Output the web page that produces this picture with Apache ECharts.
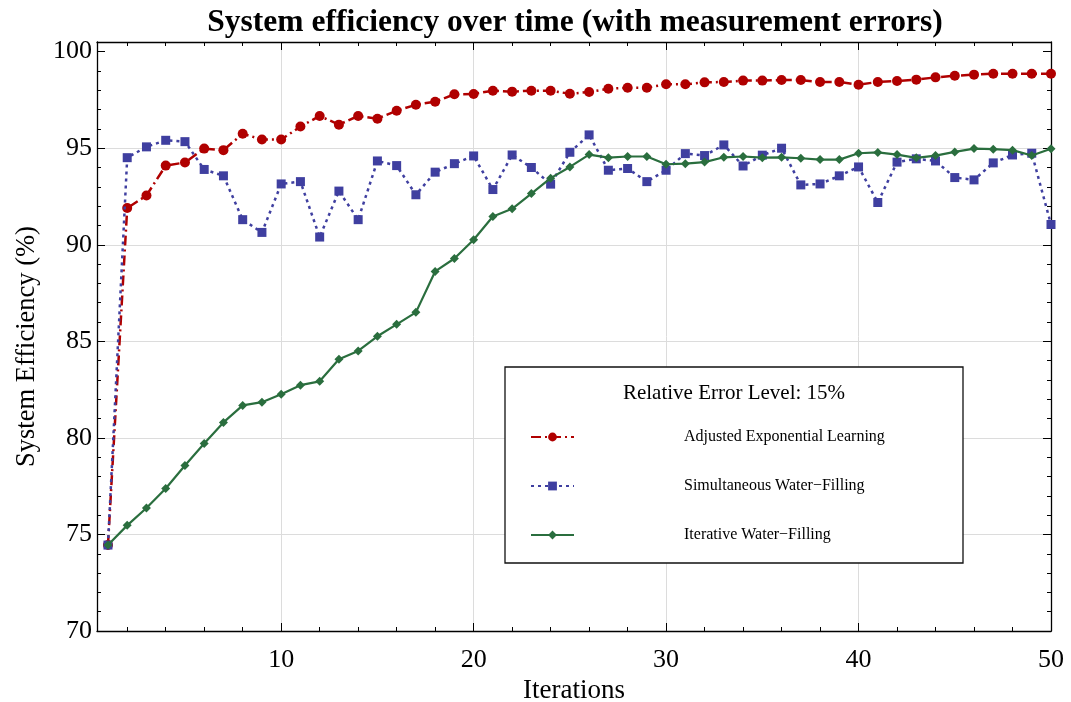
<!DOCTYPE html>
<html>
<head>
<meta charset="utf-8">
<script src="https://cdn.jsdelivr.net/npm/echarts@6/dist/echarts.min.js"></script>
<style>html,body{margin:0;padding:0;background:#fff}#chart{width:1071px;height:702px}</style>
</head>
<body>
<div id="chart"></div>
<script>
const iterations = [1,2,3,4,5,6,7,8,9,10,11,12,13,14,15,16,17,18,19,20,21,22,23,24,25,26,27,28,29,30,31,32,33,34,35,36,37,38,39,40,41,42,43,44,45,46,47,48,49,50];
const adjustedExpLearning = [74.45,91.9,92.55,94.1,94.26,94.98,94.9,95.75,95.45,95.45,96.12,96.67,96.22,96.67,96.53,96.94,97.25,97.41,97.79,97.81,97.98,97.93,97.98,97.98,97.82,97.91,98.08,98.13,98.13,98.31,98.31,98.41,98.43,98.5,98.5,98.53,98.53,98.43,98.43,98.29,98.43,98.48,98.55,98.67,98.75,98.81,98.86,98.86,98.86,98.86];
const simultaneousWF = [74.45,94.51,95.07,95.41,95.34,93.9,93.57,91.3,90.64,93.15,93.27,90.4,92.78,91.3,94.34,94.1,92.59,93.76,94.2,94.6,92.86,94.65,94.0,93.14,94.79,95.69,93.86,93.95,93.27,93.86,94.72,94.62,95.17,94.08,94.64,95.0,93.1,93.15,93.57,94.03,92.19,94.28,94.45,94.34,93.48,93.36,94.24,94.65,94.74,91.05];
const iterativeWF = [74.45,75.47,76.37,77.38,78.57,79.71,80.8,81.68,81.85,82.26,82.73,82.93,84.07,84.5,85.26,85.88,86.5,88.62,89.29,90.26,91.46,91.86,92.65,93.45,94.03,94.67,94.51,94.57,94.57,94.17,94.2,94.28,94.53,94.57,94.51,94.53,94.48,94.41,94.41,94.74,94.78,94.67,94.5,94.62,94.81,94.98,94.95,94.9,94.62,94.97];
const seriesNames = ['Adjusted Exponential Learning','Simultaneous Water\u2212Filling','Iterative Water\u2212Filling'];
const xMajorTicks = [10,20,30,40,50];
const xMinorTicks = [2,4,6,8,12,14,16,18,22,24,26,28,32,34,36,38,42,44,46,48];
const xGridValues = [10,20,30,40];
const yMajorTicks = [70,75,80,85,90,95,100];
const yMinorTicks = [71,72,73,74,76,77,78,79,81,82,83,84,86,87,88,89,91,92,93,94,96,97,98,99];
const yGridValues = [75,80,85,90,95];

const FONT = 'Liberation Serif';
const X_MIN = 0.43, X_MAX = 50, Y_MIN = 70, Y_MAX = 100.5;
const frameLine = {show:true, onZero:false, lineStyle:{color:'#000', width:1.3}};

function ax(extra, isX) {
  return Object.assign({
    type:'value', gridIndex:0,
    min: isX ? X_MIN : Y_MIN, max: isX ? X_MAX : Y_MAX,
    axisLine:{show:false, onZero:false}, axisTick:{show:false},
    axisLabel:{show:false}, splitLine:{show:false}
  }, extra);
}
function tick(vals, len) {
  return {show:true, inside:true, length:len, customValues:vals, lineStyle:{color:'#000', width:1}};
}

const chart = echarts.init(document.getElementById('chart'), null, {renderer:'canvas'});
chart.setOption({
  animation:false,
  backgroundColor:'#fff',
  title:{
    text:'System efficiency over time (with measurement errors)',
    left:575, top:7, padding:0, textAlign:'center',
    textStyle:{fontFamily:FONT, fontWeight:'bold', fontSize:31.5, color:'#000'}
  },
  grid:{left:97, right:20, top:42, bottom:71, containLabel:false, outerBoundsMode:'none'},
  xAxis:[
    ax({position:'bottom', axisLine:frameLine, axisTick:tick(xMajorTicks,8),
        axisLabel:{show:true, customValues:xMajorTicks, margin:16, fontFamily:FONT, fontSize:26, color:'#000'},
        name:'Iterations', nameLocation:'middle', nameGap:44,
        nameTextStyle:{fontFamily:FONT, fontSize:27, color:'#000'}}, true),
    ax({position:'bottom', axisTick:tick(xMinorTicks,4)}, true),
    ax({position:'top', axisLine:frameLine, axisTick:tick(xMajorTicks,8)}, true),
    ax({position:'top', axisTick:tick(xMinorTicks,4)}, true),
    ax({position:'bottom', axisTick:{show:false, customValues:xGridValues},
        splitLine:{show:true, lineStyle:{color:'#dcdcdc', width:1}}}, true)
  ],
  yAxis:[
    ax({position:'left', axisLine:frameLine, axisTick:tick(yMajorTicks,8),
        axisLabel:{show:true, customValues:yMajorTicks, margin:5, fontFamily:FONT, fontSize:26, color:'#000'},
        name:'System Efficiency (%)', nameLocation:'middle', nameGap:56,
        nameTextStyle:{fontFamily:FONT, fontSize:26.5, color:'#000', padding:[0,20,0,0]}}, false),
    ax({position:'left', axisTick:tick(yMinorTicks,4)}, false),
    ax({position:'right', axisLine:frameLine, axisTick:tick(yMajorTicks,8)}, false),
    ax({position:'right', axisTick:tick(yMinorTicks,4)}, false),
    ax({position:'left', axisTick:{show:false, customValues:yGridValues},
        splitLine:{show:true, lineStyle:{color:'#dcdcdc', width:1}}}, false)
  ],
  legend:{
    data:seriesNames, orient:'vertical', left:530, top:429, itemGap:33,
    itemWidth:43, itemHeight:11, padding:0, z:10, selectedMode:false,
    textStyle:{fontFamily:FONT, fontSize:16, color:'#000', padding:[0,0,0,105]}
  },
  graphic:[
    {type:'rect', z:5, shape:{x:505, y:367, width:458, height:196},
     style:{fill:'#fff', stroke:'#111', lineWidth:1.3}},
    {type:'text', z:6, x:734, y:393,
     style:{text:'Relative Error Level: 15%', fontFamily:FONT, fontSize:21, fill:'#000',
            align:'center', verticalAlign:'middle'}}
  ],
  series:[
    {name:seriesNames[0], type:'line', xAxisIndex:0, yAxisIndex:0,
     data:iterations.map((x,i)=>[x, adjustedExpLearning[i]]),
     symbol:'circle', symbolSize:10, color:'#b00000',
     lineStyle:{color:'#b00000', width:2.5, type:[10,4,2,4]}, z:2},
    {name:seriesNames[1], type:'line', xAxisIndex:0, yAxisIndex:0,
     data:iterations.map((x,i)=>[x, simultaneousWF[i]]),
     symbol:'rect', symbolSize:9, color:'#3f3fa0',
     lineStyle:{color:'#3f3fa0', width:2.5, type:[3,4]}, z:3},
    {name:seriesNames[2], type:'line', xAxisIndex:0, yAxisIndex:0,
     data:iterations.map((x,i)=>[x, iterativeWF[i]]),
     symbol:'diamond', symbolSize:[9,9], color:'#2a6e3e',
     lineStyle:{color:'#2a6e3e', width:2.2, type:'solid'}, z:4}
  ]
});
</script>
</body>
</html>
